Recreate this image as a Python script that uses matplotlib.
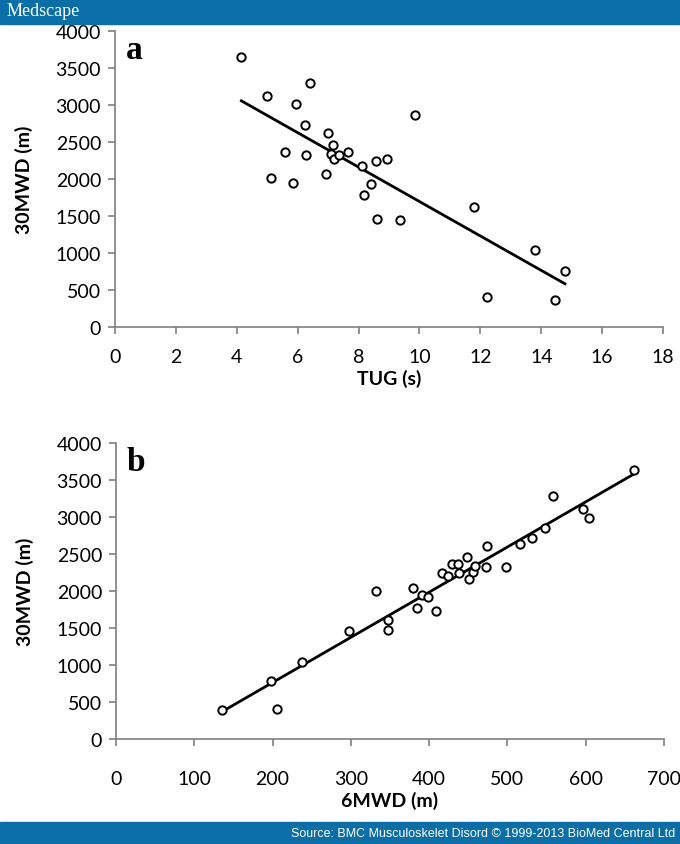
import numpy as np
import matplotlib
matplotlib.use("Agg")
import matplotlib.pyplot as plt

# panel a: TUG (s) vs 30MWD (m)
tug = [4.15, 5.0, 6.4, 5.95, 6.25, 9.85, 7.0, 7.15, 5.57, 6.27, 7.1, 7.19, 7.37, 7.65,
       8.1, 8.56, 8.95, 5.14, 5.85, 6.94, 8.41, 8.17, 8.61, 9.36, 11.78, 13.79, 14.78,
       12.22, 14.44]
mwd30_a = [3650, 3125, 3300, 3010, 2735, 2870, 2615, 2460, 2360, 2325, 2340, 2265, 2330,
           2360, 2170, 2245, 2268, 2013, 1950, 2072, 1935, 1779, 1464, 1446, 1617, 1036,
           761, 405, 365]

# panel b: 6MWD (m) vs 30MWD (m)
mwd6 = [136, 198, 206, 238, 298, 332, 347, 348, 379, 384, 391, 399, 409, 417, 424, 429,
        437, 438, 448, 451, 456, 459, 473, 474, 498, 516, 531, 548, 558, 597, 604, 662]
mwd30_b = [388, 784, 405, 1036, 1457, 2004, 1473, 1613, 2047, 1770, 1950, 1919, 1725,
           2245, 2207, 2360, 2360, 2248, 2459, 2166, 2261, 2342, 2324, 2613, 2324, 2635,
           2712, 2847, 3280, 3104, 2986, 3631]

yticks = [0, 500, 1000, 1500, 2000, 2500, 3000, 3500, 4000]
xticks_a = list(range(0, 19, 2))
xticks_b = list(range(0, 701, 100))

W, H = 680, 845
fig = plt.figure(figsize=(W / 100, H / 100), dpi=100)
fig.patch.set_facecolor("white")

blue = "#0b6ea6"
fig.patches.append(plt.Rectangle((0, 1 - 25 / H), 1, 25 / H, transform=fig.transFigure,
                                 color=blue, zorder=0))
fig.patches.append(plt.Rectangle((0, 0), 1, 22 / H, transform=fig.transFigure,
                                 color=blue, zorder=0))
fig.text(7 / W, 1 - 12 / H, "Medscape", color="white", fontsize=13,
         family="Liberation Serif", va="center", ha="left")
fig.text(675 / W, 11 / H, "Source: BMC Musculoskelet Disord \u00a9 1999-2013 BioMed Central Ltd",
         color="white", fontsize=9, family="Liberation Sans", va="center", ha="right")


def panel(rect, x, y, xticks, xmax, xlabel, letter, xpad):
    ax = fig.add_axes(rect)
    ax.plot(x, y, "o", ms=6, mfc="white", mec="black", mew=1.4, zorder=3)
    k, b = np.polyfit(x, y, 1)
    xs = np.array([min(x), max(x)])
    ax.plot(xs, k * xs + b, color="black", lw=2, zorder=2)
    ax.set_xlim(0, xmax)
    ax.set_ylim(0, 4000)
    ax.set_xticks(xticks)
    ax.set_yticks(yticks)
    for s in ["top", "right"]:
        ax.spines[s].set_visible(False)
    for s in ["left", "bottom"]:
        ax.spines[s].set_color("#7f7f7f")
        ax.spines[s].set_linewidth(1.2)
    ax.tick_params(colors="#7f7f7f", labelcolor="black", labelsize=14, length=5, width=1.2)
    ax.tick_params(axis="x", pad=xpad)
    ax.tick_params(axis="y", pad=5)
    for t in ax.get_xticklabels() + ax.get_yticklabels():
        t.set_family("Lato")
    ax.set_xlabel(xlabel, fontsize=14, fontweight="bold", family="Lato", labelpad=3)
    ax.set_ylabel("30MWD (m)", fontsize=14, fontweight="bold", family="Lato", labelpad=16)
    ax.text(0.02, 0.99, letter, transform=ax.transAxes, fontsize=24, fontweight="bold",
            family="Liberation Serif", va="top", ha="left")
    return ax


panel([115 / W, 1 - 328 / H, 548 / W, 296 / H], tug, mwd30_a, xticks_a, 18, "TUG (s)", "a", 10)
panel([116 / W, 1 - 740 / H, 548 / W, 296 / H], mwd6, mwd30_b, xticks_b, 700, "6MWD (m)", "b", 17)

fig.savefig("out.png", dpi=100)
